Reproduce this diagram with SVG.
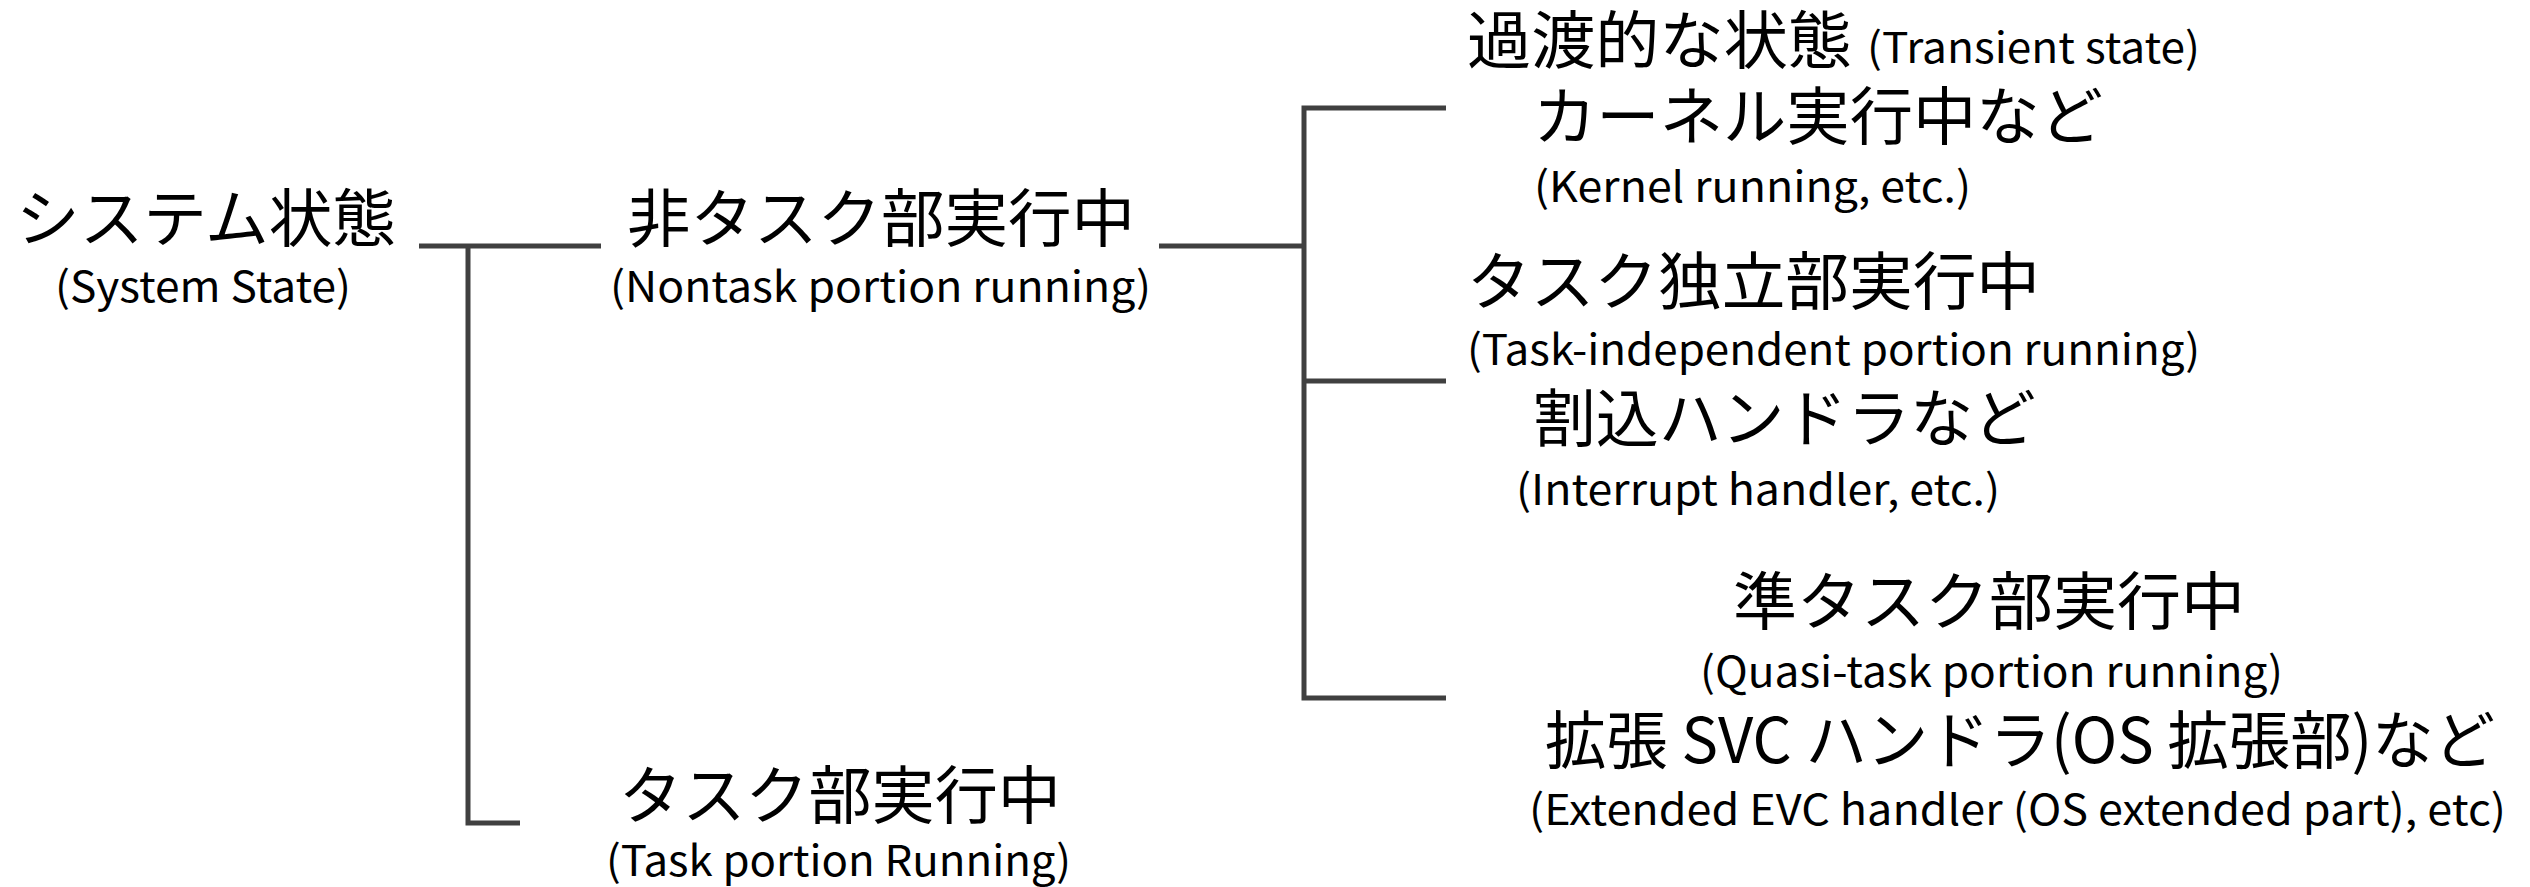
<svg xmlns="http://www.w3.org/2000/svg" width="2530" height="887" viewBox="0 0 2530 887">
<style>
.jp{font-family:"Noto Sans CJK JP","Noto Sans CJK SC",sans-serif;font-size:63px;fill:#000}
.en{font-family:"Noto Sans CJK JP","Noto Sans",sans-serif;font-size:42px;fill:#000}
.conn{fill:none;stroke:#404040;stroke-width:5;stroke-linejoin:miter}
</style>
<rect width="2530" height="887" fill="#fff"/>
<g id="connectors">
<path class="conn" d="M419,246 H601"/>
<path class="conn" d="M468,246 V823 H520"/>
<path class="conn" d="M1159,246 H1304"/>
<path class="conn" d="M1446,108 H1304 V698 H1446"/>
<path class="conn" d="M1304,381 H1446"/>
</g>
<g id="system-state">
<text class="jp" x="16" y="241" textLength="380" lengthAdjust="spacingAndGlyphs">システム状態</text>
<text class="en" x="55" y="302" textLength="296" lengthAdjust="spacingAndGlyphs">(System State)</text>
</g>
<g id="nontask">
<text class="jp" x="627" y="241" textLength="508" lengthAdjust="spacingAndGlyphs">非タスク部実行中</text>
<text class="en" x="610" y="302" textLength="541" lengthAdjust="spacingAndGlyphs">(Nontask portion running)</text>
</g>
<g id="task">
<text class="jp" x="619" y="818" textLength="442" lengthAdjust="spacingAndGlyphs">タスク部実行中</text>
<text class="en" x="606" y="876" textLength="465" lengthAdjust="spacingAndGlyphs">(Task portion Running)</text>
</g>
<g id="transient">
<text y="63"><tspan class="jp" x="1467" textLength="385" lengthAdjust="spacingAndGlyphs">過渡的な状態</tspan><tspan class="en" x="1867" textLength="333" lengthAdjust="spacingAndGlyphs">(Transient state)</tspan></text>
</g>
<g id="kernel">
<text class="jp" x="1533" y="139" textLength="570" lengthAdjust="spacingAndGlyphs">カーネル実行中など</text>
<text class="en" x="1534" y="202" textLength="437" lengthAdjust="spacingAndGlyphs">(Kernel running, etc.)</text>
</g>
<g id="task-independent">
<text class="jp" x="1467" y="304" textLength="573" lengthAdjust="spacingAndGlyphs">タスク独立部実行中</text>
<text class="en" x="1467" y="365" textLength="733" lengthAdjust="spacingAndGlyphs">(Task-independent portion running)</text>
</g>
<g id="interrupt">
<text class="jp" x="1533" y="441" textLength="503" lengthAdjust="spacingAndGlyphs">割込ハンドラなど</text>
<text class="en" x="1516" y="505" textLength="484" lengthAdjust="spacingAndGlyphs">(Interrupt handler, etc.)</text>
</g>
<g id="quasi-task">
<text class="jp" x="1733" y="624" textLength="512" lengthAdjust="spacingAndGlyphs">準タスク部実行中</text>
<text class="en" x="1700" y="687" textLength="583" lengthAdjust="spacingAndGlyphs">(Quasi-task portion running)</text>
</g>
<g id="extended-svc">
<text class="jp" x="1545" y="763" textLength="950" lengthAdjust="spacingAndGlyphs">拡張 SVC ハンドラ(OS 拡張部)など</text>
<text class="en" x="1529" y="825" textLength="977" lengthAdjust="spacingAndGlyphs">(Extended EVC handler (OS extended part), etc)</text>
</g>
</svg>
